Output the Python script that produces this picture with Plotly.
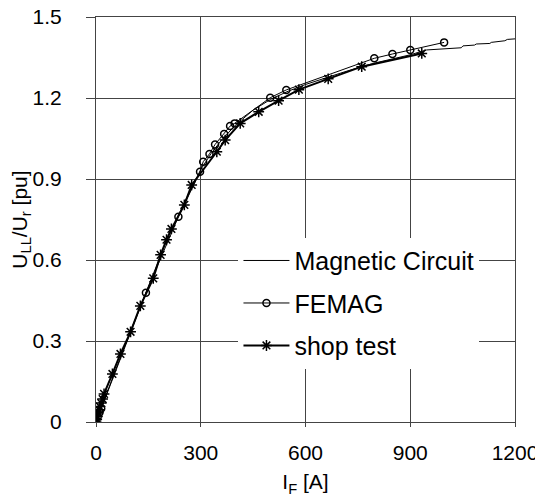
import plotly.graph_objects as go

# Magnetic Circuit (thin line, steps at the top end)
mc_i = [0, 20, 50, 100, 150, 200, 250, 300, 330, 360, 400, 450, 500, 550, 600,
        650, 700, 750, 800, 850, 900, 947, 999, 1046, 1051, 1084, 1089, 1128,
        1132, 1171, 1178, 1200]
mc_u = [0, 0.07, 0.172, 0.34, 0.505, 0.665, 0.805, 0.935, 0.995, 1.045, 1.1,
        1.155, 1.195, 1.225, 1.25, 1.272, 1.292, 1.312, 1.33, 1.345, 1.36,
        1.378, 1.381, 1.386, 1.393, 1.396, 1.4, 1.402, 1.406, 1.412, 1.417, 1.419]

# FEMAG
fe_i = [0, 5, 10, 15, 143, 236, 298, 307, 325, 341, 367, 384, 397, 499, 545,
        797, 849, 900, 997]
fe_u = [0, 0.02, 0.035, 0.05, 0.479, 0.76, 0.927, 0.964, 0.993, 1.028, 1.067,
        1.096, 1.106, 1.201, 1.23, 1.347, 1.363, 1.378, 1.406]

# shop test
st_i = [0, 2, 4, 6, 8, 11, 15, 19, 23, 47, 70, 99, 127, 164, 185, 202, 216,
        253, 274, 346, 370, 413, 466, 523, 581, 665, 761, 933]
st_u = [0, 0.01, 0.02, 0.035, 0.045, 0.057, 0.07, 0.085, 0.104, 0.178, 0.252,
        0.334, 0.43, 0.532, 0.619, 0.675, 0.715, 0.804, 0.878, 1.001, 1.044,
        1.106, 1.149, 1.19, 1.231, 1.271, 1.316, 1.365]

x_ticks = [0, 300, 600, 900, 1200]
y_ticks = [0, 0.3, 0.6, 0.9, 1.2, 1.5]
y_labels = ["0", "0.3", "0.6", "0.9", "1.2", "1.5"]

font = "Liberation Sans, Arial, sans-serif"

fig = go.Figure()
fig.add_trace(go.Scatter(x=mc_i, y=mc_u, mode="lines", name="Magnetic Circuit",
                         legendgroup="a",
                         line=dict(color="black", width=1)))
fig.add_trace(go.Scatter(x=fe_i, y=fe_u, mode="lines+markers", name="FEMAG",
                         legendgroup="b",
                         line=dict(color="black", width=1),
                         marker=dict(symbol="circle-open", size=7, color="black",
                                     line=dict(width=1.5))))
fig.add_trace(go.Scatter(x=st_i, y=st_u, mode="lines+markers", name="shop test",
                         legendgroup="c",
                         line=dict(color="black", width=2),
                         marker=dict(symbol="asterisk-open", size=9, color="black",
                                     line=dict(width=1.5))))

axis_common = dict(showline=True, linecolor="#444", linewidth=1, mirror=True,
                   showgrid=True, gridcolor="#444", gridwidth=1, zeroline=False,
                   ticks="outside", tickcolor="#444", automargin=False,
                   ticklabeloverflow="allow",
                   tickfont=dict(family=font, size=21, color="black"))

# page body has an 8px margin, so the figure is a bit smaller than the window
fig.update_layout(
    width=535, height=490,
    margin=dict(l=88, r=28, t=9, b=76),
    paper_bgcolor="white", plot_bgcolor="white",
    font=dict(family=font, color="black"),
    showlegend=True,
    legend=dict(x=0.34, y=0.455, xanchor="left", yanchor="top",
                bgcolor="white", borderwidth=0, tracegroupgap=7,
                itemwidth=46,
                font=dict(family=font, size=25, color="black")),
)
fig.update_xaxes(range=[0, 1200], tickvals=x_ticks, ticklen=4,
                 ticklabelstandoff=8,
                 title=dict(text="I<sub>F</sub> [A]", standoff=11,
                            font=dict(family=font, size=21)),
                 **axis_common)
fig.update_yaxes(range=[0, 1.5], tickvals=y_ticks, ticktext=y_labels, ticklen=9,
                 ticklabelstandoff=20,
                 title=dict(text="U<sub>LL</sub>/U<sub>r</sub> [pu]", standoff=0,
                            font=dict(family=font, size=21)),
                 **axis_common)

fig.write_html("out.html")
